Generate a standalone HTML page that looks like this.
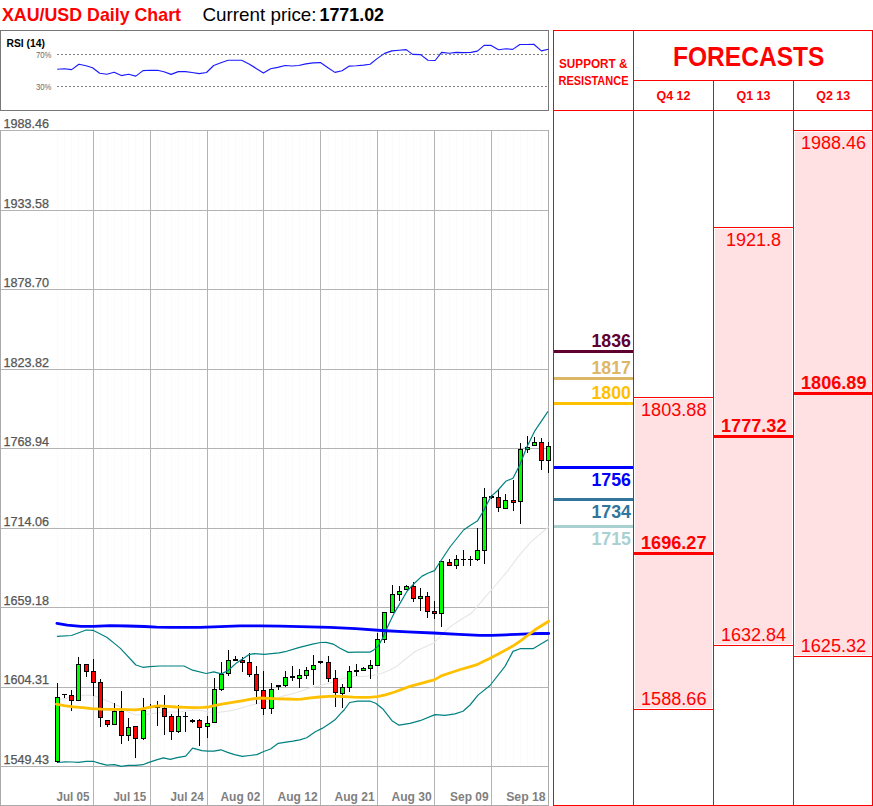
<!DOCTYPE html>
<html><head><meta charset="utf-8"><title>XAU/USD Daily Chart</title>
<style>
html,body{margin:0;padding:0;background:#fff;}
svg{display:block;}
text{font-family:"Liberation Sans",Arial,sans-serif;}
</style></head>
<body>
<svg width="873" height="806" viewBox="0 0 873 806">
<rect x="0" y="0" width="873" height="806" fill="#fff"/>
<text x="2" y="21" font-size="18.5" font-weight="bold" fill="#ff0000" textLength="179" lengthAdjust="spacingAndGlyphs">XAU/USD Daily Chart</text>
<text x="202.5" y="21" font-size="18.5" fill="#000" textLength="114" lengthAdjust="spacingAndGlyphs">Current price:</text>
<text x="319.5" y="21" font-size="18.5" font-weight="bold" fill="#000" textLength="64.5" lengthAdjust="spacingAndGlyphs">1771.02</text>
<rect x="0.5" y="30.5" width="548" height="80" fill="none" stroke="#777" stroke-width="1"/>
<text x="6.5" y="46.8" font-size="11" font-weight="bold" fill="#000" textLength="38.5" lengthAdjust="spacingAndGlyphs">RSI (14)</text>
<text x="36" y="58.2" font-size="8.5" fill="#6a6a6a" textLength="15.5" lengthAdjust="spacingAndGlyphs">70%</text>
<text x="36" y="90" font-size="8.5" fill="#6a6a6a" textLength="15.5" lengthAdjust="spacingAndGlyphs">30%</text>
<line x1="57" y1="54.5" x2="548" y2="54.5" stroke="#808080" stroke-width="1" stroke-dasharray="2,2"/>
<line x1="57" y1="86.5" x2="548" y2="86.5" stroke="#808080" stroke-width="1" stroke-dasharray="2,2"/>
<polyline points="57.2,69.2 64.4,68.7 71.6,69.6 78.9,64.3 86.1,65.8 92.5,67.7 99.7,73.2 106.9,74.3 114.1,72.2 121.4,75.6 128.6,74.3 135.8,76.1 143,70.6 150.2,70.3 157.4,70.3 163.9,71.7 171.1,74.4 178.3,71.6 185.5,71.6 192,72.5 199.2,73.6 206.5,72.5 213.7,65.5 220.9,62.7 228.1,60.3 235.3,60.2 241.7,60.3 249,63.9 256.2,68.4 263.4,73 270.6,68.7 277.8,67.4 285,65.5 292.3,66 298.7,65.5 305.9,63.9 313.1,62.9 320.4,62.6 327.6,67.4 334.9,72.4 342.1,70.8 349.3,66.1 356.5,65.8 363.7,65.1 370.1,64.2 377.4,58.4 384.6,53.4 391.8,50.9 399,50.2 406.2,49.6 412.6,54.4 420.6,54.6 427.9,60.2 435.1,60.5 441.6,52.4 449.4,53.3 456.1,52.4 463.5,52.6 471,52.4 477.4,51.1 484.1,45.4 491.1,45.4 498.5,49.7 506,48.8 512.7,49.4 519.8,44.5 526.8,44.5 533.8,44.2 541.4,50.9 548.4,49.3" fill="none" stroke="#1a1aff" stroke-width="1.15" stroke-linejoin="round"/>
<line x1="57.5" y1="131" x2="57.5" y2="766" stroke="#fbfbfb" stroke-width="1"/>
<line x1="64.5" y1="131" x2="64.5" y2="766" stroke="#fbfbfb" stroke-width="1"/>
<line x1="71.5" y1="131" x2="71.5" y2="766" stroke="#fbfbfb" stroke-width="1"/>
<line x1="78.5" y1="131" x2="78.5" y2="766" stroke="#fbfbfb" stroke-width="1"/>
<line x1="86.5" y1="131" x2="86.5" y2="766" stroke="#fbfbfb" stroke-width="1"/>
<line x1="93.5" y1="131" x2="93.5" y2="766" stroke="#fbfbfb" stroke-width="1"/>
<line x1="100.5" y1="131" x2="100.5" y2="766" stroke="#fbfbfb" stroke-width="1"/>
<line x1="107.5" y1="131" x2="107.5" y2="766" stroke="#fbfbfb" stroke-width="1"/>
<line x1="114.5" y1="131" x2="114.5" y2="766" stroke="#fbfbfb" stroke-width="1"/>
<line x1="121.5" y1="131" x2="121.5" y2="766" stroke="#fbfbfb" stroke-width="1"/>
<line x1="128.5" y1="131" x2="128.5" y2="766" stroke="#fbfbfb" stroke-width="1"/>
<line x1="135.5" y1="131" x2="135.5" y2="766" stroke="#fbfbfb" stroke-width="1"/>
<line x1="143.5" y1="131" x2="143.5" y2="766" stroke="#fbfbfb" stroke-width="1"/>
<line x1="150.5" y1="131" x2="150.5" y2="766" stroke="#fbfbfb" stroke-width="1"/>
<line x1="157.5" y1="131" x2="157.5" y2="766" stroke="#fbfbfb" stroke-width="1"/>
<line x1="164.5" y1="131" x2="164.5" y2="766" stroke="#fbfbfb" stroke-width="1"/>
<line x1="171.5" y1="131" x2="171.5" y2="766" stroke="#fbfbfb" stroke-width="1"/>
<line x1="178.5" y1="131" x2="178.5" y2="766" stroke="#fbfbfb" stroke-width="1"/>
<line x1="185.5" y1="131" x2="185.5" y2="766" stroke="#fbfbfb" stroke-width="1"/>
<line x1="192.5" y1="131" x2="192.5" y2="766" stroke="#fbfbfb" stroke-width="1"/>
<line x1="199.5" y1="131" x2="199.5" y2="766" stroke="#fbfbfb" stroke-width="1"/>
<line x1="207.5" y1="131" x2="207.5" y2="766" stroke="#fbfbfb" stroke-width="1"/>
<line x1="214.5" y1="131" x2="214.5" y2="766" stroke="#fbfbfb" stroke-width="1"/>
<line x1="221.5" y1="131" x2="221.5" y2="766" stroke="#fbfbfb" stroke-width="1"/>
<line x1="228.5" y1="131" x2="228.5" y2="766" stroke="#fbfbfb" stroke-width="1"/>
<line x1="235.5" y1="131" x2="235.5" y2="766" stroke="#fbfbfb" stroke-width="1"/>
<line x1="242.5" y1="131" x2="242.5" y2="766" stroke="#fbfbfb" stroke-width="1"/>
<line x1="249.5" y1="131" x2="249.5" y2="766" stroke="#fbfbfb" stroke-width="1"/>
<line x1="256.5" y1="131" x2="256.5" y2="766" stroke="#fbfbfb" stroke-width="1"/>
<line x1="263.5" y1="131" x2="263.5" y2="766" stroke="#fbfbfb" stroke-width="1"/>
<line x1="271.5" y1="131" x2="271.5" y2="766" stroke="#fbfbfb" stroke-width="1"/>
<line x1="278.5" y1="131" x2="278.5" y2="766" stroke="#fbfbfb" stroke-width="1"/>
<line x1="285.5" y1="131" x2="285.5" y2="766" stroke="#fbfbfb" stroke-width="1"/>
<line x1="292.5" y1="131" x2="292.5" y2="766" stroke="#fbfbfb" stroke-width="1"/>
<line x1="299.5" y1="131" x2="299.5" y2="766" stroke="#fbfbfb" stroke-width="1"/>
<line x1="306.5" y1="131" x2="306.5" y2="766" stroke="#fbfbfb" stroke-width="1"/>
<line x1="313.5" y1="131" x2="313.5" y2="766" stroke="#fbfbfb" stroke-width="1"/>
<line x1="320.5" y1="131" x2="320.5" y2="766" stroke="#fbfbfb" stroke-width="1"/>
<line x1="328.5" y1="131" x2="328.5" y2="766" stroke="#fbfbfb" stroke-width="1"/>
<line x1="335.5" y1="131" x2="335.5" y2="766" stroke="#fbfbfb" stroke-width="1"/>
<line x1="342.5" y1="131" x2="342.5" y2="766" stroke="#fbfbfb" stroke-width="1"/>
<line x1="349.5" y1="131" x2="349.5" y2="766" stroke="#fbfbfb" stroke-width="1"/>
<line x1="356.5" y1="131" x2="356.5" y2="766" stroke="#fbfbfb" stroke-width="1"/>
<line x1="363.5" y1="131" x2="363.5" y2="766" stroke="#fbfbfb" stroke-width="1"/>
<line x1="370.5" y1="131" x2="370.5" y2="766" stroke="#fbfbfb" stroke-width="1"/>
<line x1="377.5" y1="131" x2="377.5" y2="766" stroke="#fbfbfb" stroke-width="1"/>
<line x1="384.5" y1="131" x2="384.5" y2="766" stroke="#fbfbfb" stroke-width="1"/>
<line x1="392.5" y1="131" x2="392.5" y2="766" stroke="#fbfbfb" stroke-width="1"/>
<line x1="399.5" y1="131" x2="399.5" y2="766" stroke="#fbfbfb" stroke-width="1"/>
<line x1="406.5" y1="131" x2="406.5" y2="766" stroke="#fbfbfb" stroke-width="1"/>
<line x1="413.5" y1="131" x2="413.5" y2="766" stroke="#fbfbfb" stroke-width="1"/>
<line x1="420.5" y1="131" x2="420.5" y2="766" stroke="#fbfbfb" stroke-width="1"/>
<line x1="427.5" y1="131" x2="427.5" y2="766" stroke="#fbfbfb" stroke-width="1"/>
<line x1="434.5" y1="131" x2="434.5" y2="766" stroke="#fbfbfb" stroke-width="1"/>
<line x1="441.5" y1="131" x2="441.5" y2="766" stroke="#fbfbfb" stroke-width="1"/>
<line x1="449.5" y1="131" x2="449.5" y2="766" stroke="#fbfbfb" stroke-width="1"/>
<line x1="456.5" y1="131" x2="456.5" y2="766" stroke="#fbfbfb" stroke-width="1"/>
<line x1="463.5" y1="131" x2="463.5" y2="766" stroke="#fbfbfb" stroke-width="1"/>
<line x1="470.5" y1="131" x2="470.5" y2="766" stroke="#fbfbfb" stroke-width="1"/>
<line x1="477.5" y1="131" x2="477.5" y2="766" stroke="#fbfbfb" stroke-width="1"/>
<line x1="484.5" y1="131" x2="484.5" y2="766" stroke="#fbfbfb" stroke-width="1"/>
<line x1="491.5" y1="131" x2="491.5" y2="766" stroke="#fbfbfb" stroke-width="1"/>
<line x1="498.5" y1="131" x2="498.5" y2="766" stroke="#fbfbfb" stroke-width="1"/>
<line x1="505.5" y1="131" x2="505.5" y2="766" stroke="#fbfbfb" stroke-width="1"/>
<line x1="513.5" y1="131" x2="513.5" y2="766" stroke="#fbfbfb" stroke-width="1"/>
<line x1="520.5" y1="131" x2="520.5" y2="766" stroke="#fbfbfb" stroke-width="1"/>
<line x1="527.5" y1="131" x2="527.5" y2="766" stroke="#fbfbfb" stroke-width="1"/>
<line x1="534.5" y1="131" x2="534.5" y2="766" stroke="#fbfbfb" stroke-width="1"/>
<line x1="541.5" y1="131" x2="541.5" y2="766" stroke="#fbfbfb" stroke-width="1"/>
<line x1="548.5" y1="131" x2="548.5" y2="766" stroke="#fbfbfb" stroke-width="1"/>
<line x1="0" y1="130.5" x2="549" y2="130.5" stroke="#b3b3b3" stroke-width="1"/>
<line x1="0" y1="210.5" x2="549" y2="210.5" stroke="#b3b3b3" stroke-width="1"/>
<line x1="0" y1="289.5" x2="549" y2="289.5" stroke="#b3b3b3" stroke-width="1"/>
<line x1="0" y1="369.5" x2="549" y2="369.5" stroke="#b3b3b3" stroke-width="1"/>
<line x1="0" y1="448.5" x2="549" y2="448.5" stroke="#b3b3b3" stroke-width="1"/>
<line x1="0" y1="528.5" x2="549" y2="528.5" stroke="#b3b3b3" stroke-width="1"/>
<line x1="0" y1="607.5" x2="549" y2="607.5" stroke="#b3b3b3" stroke-width="1"/>
<line x1="0" y1="687.5" x2="549" y2="687.5" stroke="#b3b3b3" stroke-width="1"/>
<line x1="0" y1="766.5" x2="549" y2="766.5" stroke="#b3b3b3" stroke-width="1"/>
<line x1="93.5" y1="130" x2="93.5" y2="805" stroke="#b3b3b3" stroke-width="1"/>
<line x1="150.5" y1="130" x2="150.5" y2="805" stroke="#b3b3b3" stroke-width="1"/>
<line x1="207.5" y1="130" x2="207.5" y2="805" stroke="#b3b3b3" stroke-width="1"/>
<line x1="263.5" y1="130" x2="263.5" y2="805" stroke="#b3b3b3" stroke-width="1"/>
<line x1="320.5" y1="130" x2="320.5" y2="805" stroke="#b3b3b3" stroke-width="1"/>
<line x1="377.5" y1="130" x2="377.5" y2="805" stroke="#b3b3b3" stroke-width="1"/>
<line x1="434.5" y1="130" x2="434.5" y2="805" stroke="#b3b3b3" stroke-width="1"/>
<line x1="491.5" y1="130" x2="491.5" y2="805" stroke="#b3b3b3" stroke-width="1"/>
<line x1="548.5" y1="130" x2="548.5" y2="805" stroke="#b3b3b3" stroke-width="1"/>
<line x1="0.5" y1="130" x2="0.5" y2="806" stroke="#aaa" stroke-width="1"/>
<line x1="0" y1="805.5" x2="549" y2="805.5" stroke="#aaa" stroke-width="1"/>
<line x1="548.5" y1="130" x2="548.5" y2="806" stroke="#aaa" stroke-width="1"/>
<text x="3.5" y="128.3" font-size="11.9" fill="#555" stroke="#555" stroke-width="0.25" textLength="45.5" lengthAdjust="spacingAndGlyphs">1988.46</text>
<text x="3.5" y="207.75" font-size="11.9" fill="#555" stroke="#555" stroke-width="0.25" textLength="45.5" lengthAdjust="spacingAndGlyphs">1933.58</text>
<text x="3.5" y="287.2" font-size="11.9" fill="#555" stroke="#555" stroke-width="0.25" textLength="45.5" lengthAdjust="spacingAndGlyphs">1878.70</text>
<text x="3.5" y="366.65" font-size="11.9" fill="#555" stroke="#555" stroke-width="0.25" textLength="45.5" lengthAdjust="spacingAndGlyphs">1823.82</text>
<text x="3.5" y="446.1" font-size="11.9" fill="#555" stroke="#555" stroke-width="0.25" textLength="45.5" lengthAdjust="spacingAndGlyphs">1768.94</text>
<text x="3.5" y="525.55" font-size="11.9" fill="#555" stroke="#555" stroke-width="0.25" textLength="45.5" lengthAdjust="spacingAndGlyphs">1714.06</text>
<text x="3.5" y="605" font-size="11.9" fill="#555" stroke="#555" stroke-width="0.25" textLength="45.5" lengthAdjust="spacingAndGlyphs">1659.18</text>
<text x="3.5" y="684.45" font-size="11.9" fill="#555" stroke="#555" stroke-width="0.25" textLength="45.5" lengthAdjust="spacingAndGlyphs">1604.31</text>
<text x="3.5" y="763.9" font-size="11.9" fill="#555" stroke="#555" stroke-width="0.25" textLength="45.5" lengthAdjust="spacingAndGlyphs">1549.43</text>
<text x="56.5" y="800.7" font-size="12.5" font-weight="bold" fill="#7f7f7f" textLength="33" lengthAdjust="spacingAndGlyphs">Jul 05</text>
<text x="113.4" y="800.7" font-size="12.5" font-weight="bold" fill="#7f7f7f" textLength="32.8" lengthAdjust="spacingAndGlyphs">Jul 15</text>
<text x="170.5" y="800.7" font-size="12.5" font-weight="bold" fill="#7f7f7f" textLength="33.2" lengthAdjust="spacingAndGlyphs">Jul 24</text>
<text x="220.5" y="800.7" font-size="12.5" font-weight="bold" fill="#7f7f7f" textLength="39.8" lengthAdjust="spacingAndGlyphs">Aug 02</text>
<text x="277.5" y="800.7" font-size="12.5" font-weight="bold" fill="#7f7f7f" textLength="40.1" lengthAdjust="spacingAndGlyphs">Aug 12</text>
<text x="334.6" y="800.7" font-size="12.5" font-weight="bold" fill="#7f7f7f" textLength="40.1" lengthAdjust="spacingAndGlyphs">Aug 21</text>
<text x="391.4" y="800.7" font-size="12.5" font-weight="bold" fill="#7f7f7f" textLength="40.4" lengthAdjust="spacingAndGlyphs">Aug 30</text>
<text x="450.1" y="800.7" font-size="12.5" font-weight="bold" fill="#7f7f7f" textLength="38.5" lengthAdjust="spacingAndGlyphs">Sep 09</text>
<text x="506.2" y="800.7" font-size="12.5" font-weight="bold" fill="#7f7f7f" textLength="39.5" lengthAdjust="spacingAndGlyphs">Sep 18</text>
<polyline points="57.6,699.6 61.4,699.2 73.3,696.9 82.5,695.5 87.1,695 93.5,695.5 100.8,698.2 110,701.9 119.2,706.5 128.3,712 135,714.7 144.2,714.9 153.3,713.4 162.5,712.5 171.7,712 180.8,711.8 190,710.2 199.2,710 208.3,712 218.7,712.3 227.9,711.1 237.1,709.3 246.2,706.5 255.4,704.2 264.6,702 273.7,699.5 282.9,696.1 292.1,693.8 301.2,691 310.4,687.8 319.6,685.8 328.7,683.2 335,681.5 344.2,678.3 353.3,676.5 362.5,676.5 371.7,675.8 380.8,673.7 390,670 397.3,665.9 405,659.5 415.9,651 425,647 434.3,642.7 449.6,627.1 461.5,619.2 471.4,613.3 483.3,599.4 495.2,585.5 507.1,571.6 519,555.7 531,541.8 548.6,527" fill="none" stroke="#e6e6e6" stroke-width="1.1" stroke-linejoin="round"/>
<g shape-rendering="crispEdges">
<rect x="57" y="683" width="1" height="80" fill="#000"/>
<rect x="55" y="697" width="5" height="65" fill="#000"/>
<rect x="56" y="698" width="3" height="63" fill="#00ff00"/>
<rect x="64" y="694" width="1" height="4" fill="#000"/>
<rect x="62" y="694" width="5" height="1" fill="#000"/>
<rect x="71" y="690" width="1" height="21" fill="#000"/>
<rect x="69" y="695" width="5" height="6" fill="#000"/>
<rect x="70" y="696" width="3" height="4" fill="#ff0000"/>
<rect x="78" y="657" width="1" height="43" fill="#000"/>
<rect x="76" y="664" width="5" height="37" fill="#000"/>
<rect x="77" y="665" width="3" height="35" fill="#00ff00"/>
<rect x="86" y="664" width="1" height="13" fill="#000"/>
<rect x="84" y="664" width="5" height="8" fill="#000"/>
<rect x="85" y="665" width="3" height="6" fill="#ff0000"/>
<rect x="93" y="659" width="1" height="37" fill="#000"/>
<rect x="91" y="671" width="5" height="12" fill="#000"/>
<rect x="92" y="672" width="3" height="10" fill="#ff0000"/>
<rect x="100" y="679" width="1" height="48" fill="#000"/>
<rect x="98" y="682" width="5" height="36" fill="#000"/>
<rect x="99" y="683" width="3" height="34" fill="#ff0000"/>
<rect x="107" y="720" width="1" height="7" fill="#000"/>
<rect x="105" y="720" width="5" height="5" fill="#000"/>
<rect x="106" y="721" width="3" height="3" fill="#ff0000"/>
<rect x="114" y="703" width="1" height="21" fill="#000"/>
<rect x="112" y="711" width="5" height="14" fill="#000"/>
<rect x="113" y="712" width="3" height="12" fill="#00ff00"/>
<rect x="121" y="691" width="1" height="53" fill="#000"/>
<rect x="119" y="711" width="5" height="25" fill="#000"/>
<rect x="120" y="712" width="3" height="23" fill="#ff0000"/>
<rect x="128" y="718" width="1" height="23" fill="#000"/>
<rect x="126" y="727" width="5" height="9" fill="#000"/>
<rect x="127" y="728" width="3" height="7" fill="#00ff00"/>
<rect x="135" y="726" width="1" height="32" fill="#000"/>
<rect x="133" y="726" width="5" height="13" fill="#000"/>
<rect x="134" y="727" width="3" height="11" fill="#ff0000"/>
<rect x="143" y="698" width="1" height="42" fill="#000"/>
<rect x="141" y="710" width="5" height="29" fill="#000"/>
<rect x="142" y="711" width="3" height="27" fill="#00ff00"/>
<rect x="150" y="704" width="1" height="4" fill="#000"/>
<rect x="148" y="706" width="5" height="1" fill="#000"/>
<rect x="157" y="701" width="1" height="25" fill="#000"/>
<rect x="155" y="707" width="5" height="1" fill="#000"/>
<rect x="164" y="695" width="1" height="40" fill="#000"/>
<rect x="162" y="708" width="5" height="9" fill="#000"/>
<rect x="163" y="709" width="3" height="7" fill="#ff0000"/>
<rect x="171" y="714" width="1" height="26" fill="#000"/>
<rect x="169" y="716" width="5" height="16" fill="#000"/>
<rect x="170" y="717" width="3" height="14" fill="#ff0000"/>
<rect x="178" y="705" width="1" height="28" fill="#000"/>
<rect x="176" y="716" width="5" height="16" fill="#000"/>
<rect x="177" y="717" width="3" height="14" fill="#00ff00"/>
<rect x="185" y="712" width="1" height="20" fill="#000"/>
<rect x="183" y="716" width="5" height="1" fill="#000"/>
<rect x="192" y="719" width="1" height="4" fill="#000"/>
<rect x="190" y="720" width="5" height="2" fill="#000"/>
<rect x="199" y="719" width="1" height="27" fill="#000"/>
<rect x="197" y="720" width="5" height="8" fill="#000"/>
<rect x="198" y="721" width="3" height="6" fill="#ff0000"/>
<rect x="207" y="716" width="1" height="22" fill="#000"/>
<rect x="205" y="723" width="5" height="4" fill="#000"/>
<rect x="206" y="724" width="3" height="2" fill="#00ff00"/>
<rect x="214" y="678" width="1" height="44" fill="#000"/>
<rect x="212" y="689" width="5" height="34" fill="#000"/>
<rect x="213" y="690" width="3" height="32" fill="#00ff00"/>
<rect x="221" y="662" width="1" height="29" fill="#000"/>
<rect x="219" y="674" width="5" height="16" fill="#000"/>
<rect x="220" y="675" width="3" height="14" fill="#00ff00"/>
<rect x="228" y="650" width="1" height="26" fill="#000"/>
<rect x="226" y="660" width="5" height="14" fill="#000"/>
<rect x="227" y="661" width="3" height="12" fill="#00ff00"/>
<rect x="235" y="656" width="1" height="4" fill="#000"/>
<rect x="233" y="659" width="5" height="2" fill="#000"/>
<rect x="242" y="657" width="1" height="15" fill="#000"/>
<rect x="240" y="660" width="5" height="3" fill="#000"/>
<rect x="241" y="661" width="3" height="1" fill="#ff0000"/>
<rect x="249" y="653" width="1" height="24" fill="#000"/>
<rect x="247" y="662" width="5" height="13" fill="#000"/>
<rect x="248" y="663" width="3" height="11" fill="#ff0000"/>
<rect x="256" y="666" width="1" height="38" fill="#000"/>
<rect x="254" y="674" width="5" height="17" fill="#000"/>
<rect x="255" y="675" width="3" height="15" fill="#ff0000"/>
<rect x="263" y="671" width="1" height="44" fill="#000"/>
<rect x="261" y="690" width="5" height="19" fill="#000"/>
<rect x="262" y="691" width="3" height="17" fill="#ff0000"/>
<rect x="271" y="683" width="1" height="31" fill="#000"/>
<rect x="269" y="689" width="5" height="20" fill="#000"/>
<rect x="270" y="690" width="3" height="18" fill="#00ff00"/>
<rect x="278" y="685" width="1" height="5" fill="#000"/>
<rect x="276" y="685" width="5" height="2" fill="#000"/>
<rect x="285" y="671" width="1" height="16" fill="#000"/>
<rect x="283" y="677" width="5" height="9" fill="#000"/>
<rect x="284" y="678" width="3" height="7" fill="#00ff00"/>
<rect x="292" y="666" width="1" height="15" fill="#000"/>
<rect x="290" y="676" width="5" height="2" fill="#000"/>
<rect x="299" y="669" width="1" height="19" fill="#000"/>
<rect x="297" y="675" width="5" height="4" fill="#000"/>
<rect x="298" y="676" width="3" height="2" fill="#00ff00"/>
<rect x="306" y="667" width="1" height="12" fill="#000"/>
<rect x="304" y="670" width="5" height="6" fill="#000"/>
<rect x="305" y="671" width="3" height="4" fill="#00ff00"/>
<rect x="313" y="655" width="1" height="30" fill="#000"/>
<rect x="311" y="665" width="5" height="5" fill="#000"/>
<rect x="312" y="666" width="3" height="3" fill="#00ff00"/>
<rect x="320" y="661" width="1" height="3" fill="#000"/>
<rect x="318" y="661" width="5" height="2" fill="#000"/>
<rect x="328" y="656" width="1" height="26" fill="#000"/>
<rect x="326" y="662" width="5" height="17" fill="#000"/>
<rect x="327" y="663" width="3" height="15" fill="#ff0000"/>
<rect x="335" y="670" width="1" height="37" fill="#000"/>
<rect x="333" y="678" width="5" height="15" fill="#000"/>
<rect x="334" y="679" width="3" height="13" fill="#ff0000"/>
<rect x="342" y="684" width="1" height="24" fill="#000"/>
<rect x="340" y="687" width="5" height="7" fill="#000"/>
<rect x="341" y="688" width="3" height="5" fill="#00ff00"/>
<rect x="349" y="666" width="1" height="26" fill="#000"/>
<rect x="347" y="671" width="5" height="17" fill="#000"/>
<rect x="348" y="672" width="3" height="15" fill="#00ff00"/>
<rect x="356" y="664" width="1" height="12" fill="#000"/>
<rect x="354" y="670" width="5" height="2" fill="#000"/>
<rect x="363" y="667" width="1" height="4" fill="#000"/>
<rect x="361" y="668" width="5" height="3" fill="#000"/>
<rect x="362" y="669" width="3" height="1" fill="#00ff00"/>
<rect x="370" y="660" width="1" height="19" fill="#000"/>
<rect x="368" y="665" width="5" height="4" fill="#000"/>
<rect x="369" y="666" width="3" height="2" fill="#00ff00"/>
<rect x="377" y="633" width="1" height="33" fill="#000"/>
<rect x="375" y="639" width="5" height="27" fill="#000"/>
<rect x="376" y="640" width="3" height="25" fill="#00ff00"/>
<rect x="384" y="612" width="1" height="31" fill="#000"/>
<rect x="382" y="612" width="5" height="28" fill="#000"/>
<rect x="383" y="613" width="3" height="26" fill="#00ff00"/>
<rect x="392" y="585" width="1" height="27" fill="#000"/>
<rect x="390" y="594" width="5" height="19" fill="#000"/>
<rect x="391" y="595" width="3" height="17" fill="#00ff00"/>
<rect x="399" y="586" width="1" height="15" fill="#000"/>
<rect x="397" y="591" width="5" height="4" fill="#000"/>
<rect x="398" y="592" width="3" height="2" fill="#00ff00"/>
<rect x="406" y="585" width="1" height="5" fill="#000"/>
<rect x="404" y="586" width="5" height="4" fill="#000"/>
<rect x="405" y="587" width="3" height="2" fill="#00ff00"/>
<rect x="413" y="582" width="1" height="20" fill="#000"/>
<rect x="411" y="586" width="5" height="13" fill="#000"/>
<rect x="412" y="587" width="3" height="11" fill="#ff0000"/>
<rect x="420" y="588" width="1" height="23" fill="#000"/>
<rect x="418" y="596" width="5" height="3" fill="#000"/>
<rect x="419" y="597" width="3" height="1" fill="#00ff00"/>
<rect x="427" y="592" width="1" height="26" fill="#000"/>
<rect x="425" y="596" width="5" height="16" fill="#000"/>
<rect x="426" y="597" width="3" height="14" fill="#ff0000"/>
<rect x="434" y="601" width="1" height="18" fill="#000"/>
<rect x="432" y="611" width="5" height="3" fill="#000"/>
<rect x="433" y="612" width="3" height="1" fill="#ff0000"/>
<rect x="441" y="561" width="1" height="66" fill="#000"/>
<rect x="439" y="561" width="5" height="53" fill="#000"/>
<rect x="440" y="562" width="3" height="51" fill="#00ff00"/>
<rect x="449" y="559" width="1" height="7" fill="#000"/>
<rect x="447" y="562" width="5" height="4" fill="#000"/>
<rect x="448" y="563" width="3" height="2" fill="#ff0000"/>
<rect x="456" y="555" width="1" height="14" fill="#000"/>
<rect x="454" y="559" width="5" height="7" fill="#000"/>
<rect x="455" y="560" width="3" height="5" fill="#00ff00"/>
<rect x="463" y="550" width="1" height="16" fill="#000"/>
<rect x="461" y="559" width="5" height="1" fill="#000"/>
<rect x="470" y="556" width="1" height="10" fill="#000"/>
<rect x="468" y="559" width="5" height="1" fill="#000"/>
<rect x="477" y="528" width="1" height="33" fill="#000"/>
<rect x="475" y="550" width="5" height="10" fill="#000"/>
<rect x="476" y="551" width="3" height="8" fill="#00ff00"/>
<rect x="484" y="488" width="1" height="76" fill="#000"/>
<rect x="482" y="497" width="5" height="54" fill="#000"/>
<rect x="483" y="498" width="3" height="52" fill="#00ff00"/>
<rect x="491" y="495" width="1" height="4" fill="#000"/>
<rect x="489" y="496" width="5" height="2" fill="#000"/>
<rect x="498" y="490" width="1" height="22" fill="#000"/>
<rect x="496" y="497" width="5" height="11" fill="#000"/>
<rect x="497" y="498" width="3" height="9" fill="#ff0000"/>
<rect x="505" y="494" width="1" height="15" fill="#000"/>
<rect x="503" y="500" width="5" height="9" fill="#000"/>
<rect x="504" y="501" width="3" height="7" fill="#00ff00"/>
<rect x="513" y="480" width="1" height="31" fill="#000"/>
<rect x="511" y="500" width="5" height="3" fill="#000"/>
<rect x="512" y="501" width="3" height="1" fill="#ff0000"/>
<rect x="520" y="443" width="1" height="81" fill="#000"/>
<rect x="518" y="449" width="5" height="53" fill="#000"/>
<rect x="519" y="450" width="3" height="51" fill="#00ff00"/>
<rect x="527" y="436" width="1" height="17" fill="#000"/>
<rect x="525" y="447" width="5" height="3" fill="#000"/>
<rect x="526" y="448" width="3" height="1" fill="#00ff00"/>
<rect x="534" y="437" width="1" height="9" fill="#000"/>
<rect x="532" y="442" width="5" height="4" fill="#000"/>
<rect x="533" y="443" width="3" height="2" fill="#00ff00"/>
<rect x="541" y="438" width="1" height="32" fill="#000"/>
<rect x="539" y="442" width="5" height="19" fill="#000"/>
<rect x="540" y="443" width="3" height="17" fill="#ff0000"/>
<rect x="548" y="442" width="1" height="31" fill="#000"/>
<rect x="546" y="446" width="5" height="15" fill="#000"/>
<rect x="547" y="447" width="3" height="13" fill="#00ff00"/>
</g>
<polyline points="56.9,636.3 71.5,635.5 86.1,630 93,630.3 106.7,637.2 115.3,644.1 120.4,648.4 135.9,665 142.8,667.3 149.7,666.7 160,666 184,666 192.6,670.2 206.2,673.5 213.8,671.9 221.4,673.9 228.2,670.5 236.5,662.9 248.8,654.7 254.3,653.7 264,654.3 279.1,652.9 285,651.7 298.7,647.6 312.5,644.1 320.7,642.5 326.2,642.3 333.1,644.1 340,648.2 348.2,652.4 356.5,652.1 370.2,652.1 373.7,649.9 378,646.4 382.4,638.6 385.8,630.8 390.2,621.3 394.5,612.6 399.7,603.9 407.2,591 414.7,583 422.1,576.1 428.3,573 434.5,570.6 438.9,563.7 441.4,560 450,547 463.6,530 470.5,525.2 477.3,521.1 482.7,512.3 490.9,496.6 497.7,490.5 505.9,481.2 513,478.2 520,464.5 527,446.8 535,430.6 548,411.3" fill="none" stroke="#008080" stroke-width="1.2" stroke-linejoin="round"/>
<polyline points="57.7,762.5 65.5,761.8 72.3,762 78.4,762.3 86.1,761.3 93,761.3 99.8,763.4 106.7,765.1 114.4,764.7 121.3,766.4 128.2,765.4 135.9,765.4 142.8,764.7 149.7,762.1 156.5,759.9 163.4,757.9 170.3,759.4 177.1,757.7 185.7,756.1 192.6,748.2 201.9,750.7 207.9,751.2 213.9,751.2 220.8,749.8 227.6,752.4 234.5,754.6 242.3,756.4 250,755.5 256.9,754.6 263.7,751.5 270.6,749 278.3,743.3 286.1,742.1 292.9,741.2 299.8,739.9 306.7,737.8 315.3,731.8 322.1,728.4 329,724.1 335,719.8 340,714.1 344.1,710 349.6,702.5 357.9,701.2 370.2,701.2 375.7,703.2 382.6,708.7 392,720.7 399,725.2 410,723.4 420,720.7 435,714.6 445,715.3 455,713.9 463,711.2 470,705 478,695.1 490,685.5 505,666.4 513,651.4 520,648.7 533,648.7 548,639.7" fill="none" stroke="#008080" stroke-width="1.2" stroke-linejoin="round"/>
<polyline points="56.9,623.4 67.2,625.2 80.9,626.4 93,626.4 110.1,625.7 127.3,626 144.5,626.5 156.5,627.2 170.3,627.4 200,627.4 220,626.6 240,625.9 260,625.9 280,626.2 300,626.7 330,627.4 355.8,628.7 381.5,630.5 407.3,631.8 433.1,633 458.9,634.4 480,635.3 491.9,635.3 505.7,634.8 516.7,634.4 527.7,633.9 539.6,633.5 548.7,633.5" fill="none" stroke="#0000ff" stroke-width="2.8" stroke-linejoin="round" stroke-linecap="round"/>
<polyline points="56.4,704.2 64.2,705.6 73.3,706.8 82.5,707.6 91.7,708.6 100.8,709.2 110,709.4 119.2,709.4 128.3,709.7 135,709.9 141.4,709.2 148.7,707.4 157.9,705.8 167.1,706.3 176.2,707 185.4,707.4 194.6,707.6 203.7,707.4 208.3,707 214.2,705.6 223.3,703.8 232.5,702.4 241.7,700.8 250.8,699.2 260,698 269.2,698.3 278.3,698.9 287.5,699 296.7,699.3 301.2,699.1 310.4,697.9 319.6,697 328.7,696.3 335,696.2 344.2,696.6 353.3,697.1 362.5,697.3 371.7,697.1 377.2,696.6 385.4,694.8 394.6,692 403.7,688.6 410,686.3 419.2,683.8 428.3,681.4 434.3,679.9 441.2,675.9 451.2,672.5 460.4,669.5 469.6,666.8 476.9,664.7 483.3,661.6 489.2,658.7 498.3,653.9 507.5,649 513.9,645.4 521.2,640.3 527.7,635.3 535,629.8 542.3,625.2 548.7,621.3" fill="none" stroke="#ffc000" stroke-width="2.8" stroke-linejoin="round" stroke-linecap="round"/>
<rect x="635" y="399" width="77" height="309" fill="#ffe1e3"/>
<rect x="715" y="229" width="77" height="415" fill="#ffe1e3"/>
<rect x="795" y="132" width="76" height="523" fill="#ffe1e3"/>
<line x1="633" y1="397.5" x2="714" y2="397.5" stroke="#ff0000" stroke-width="1"/>
<line x1="633" y1="709.5" x2="714" y2="709.5" stroke="#ff0000" stroke-width="1"/>
<line x1="713" y1="227.5" x2="794" y2="227.5" stroke="#ff0000" stroke-width="1"/>
<line x1="713" y1="645.5" x2="794" y2="645.5" stroke="#ff0000" stroke-width="1"/>
<line x1="793" y1="130.5" x2="873" y2="130.5" stroke="#ff0000" stroke-width="1"/>
<line x1="793" y1="656.5" x2="873" y2="656.5" stroke="#ff0000" stroke-width="1"/>
<line x1="633" y1="553.5" x2="714" y2="553.5" stroke="#ff0000" stroke-width="3"/>
<line x1="713" y1="436.5" x2="794" y2="436.5" stroke="#ff0000" stroke-width="3"/>
<line x1="793" y1="393.5" x2="873" y2="393.5" stroke="#ff0000" stroke-width="3"/>
<line x1="554" y1="351.5" x2="634" y2="351.5" stroke="#5f0031" stroke-width="3"/>
<text x="591.5" y="346.7" font-size="17.5" font-weight="bold" fill="#5f0031" textLength="39.5" lengthAdjust="spacingAndGlyphs">1836</text>
<line x1="554" y1="378.5" x2="634" y2="378.5" stroke="#dcb767" stroke-width="3"/>
<text x="591.5" y="373.7" font-size="17.5" font-weight="bold" fill="#dcb767" textLength="39.5" lengthAdjust="spacingAndGlyphs">1817</text>
<line x1="554" y1="403.5" x2="634" y2="403.5" stroke="#ffc000" stroke-width="3"/>
<text x="591.5" y="398.8" font-size="17.5" font-weight="bold" fill="#ffc000" textLength="39.5" lengthAdjust="spacingAndGlyphs">1800</text>
<line x1="554" y1="467.5" x2="634" y2="467.5" stroke="#0000ff" stroke-width="3"/>
<text x="591.5" y="486" font-size="17.5" font-weight="bold" fill="#0000ff" textLength="39.5" lengthAdjust="spacingAndGlyphs">1756</text>
<line x1="554" y1="499.5" x2="634" y2="499.5" stroke="#31759c" stroke-width="3"/>
<text x="591.5" y="517.9" font-size="17.5" font-weight="bold" fill="#31759c" textLength="39.5" lengthAdjust="spacingAndGlyphs">1734</text>
<line x1="554" y1="526.5" x2="634" y2="526.5" stroke="#a9d1d1" stroke-width="3"/>
<text x="591.5" y="544.9" font-size="17.5" font-weight="bold" fill="#a9d1d1" textLength="39.5" lengthAdjust="spacingAndGlyphs">1715</text>
<text x="641" y="415.7" font-size="17.5" font-weight="normal" fill="#ff0000" textLength="65.5" lengthAdjust="spacingAndGlyphs">1803.88</text>
<text x="641" y="548.9" font-size="17.5" font-weight="bold" fill="#ff0000" textLength="65.5" lengthAdjust="spacingAndGlyphs">1696.27</text>
<text x="641" y="704.7" font-size="17.5" font-weight="normal" fill="#ff0000" textLength="65.5" lengthAdjust="spacingAndGlyphs">1588.66</text>
<text x="726" y="245.8" font-size="17.5" font-weight="normal" fill="#ff0000" textLength="55" lengthAdjust="spacingAndGlyphs">1921.8</text>
<text x="721" y="431.7" font-size="17.5" font-weight="bold" fill="#ff0000" textLength="65.5" lengthAdjust="spacingAndGlyphs">1777.32</text>
<text x="721" y="640.6" font-size="17.5" font-weight="normal" fill="#ff0000" textLength="65" lengthAdjust="spacingAndGlyphs">1632.84</text>
<text x="801" y="148.6" font-size="17.5" font-weight="normal" fill="#ff0000" textLength="65" lengthAdjust="spacingAndGlyphs">1988.46</text>
<text x="801" y="388.7" font-size="17.5" font-weight="bold" fill="#ff0000" textLength="65.5" lengthAdjust="spacingAndGlyphs">1806.89</text>
<text x="800.7" y="651.6" font-size="17.5" font-weight="normal" fill="#ff0000" textLength="65.5" lengthAdjust="spacingAndGlyphs">1625.32</text>
<rect x="553.5" y="30.5" width="319" height="775" fill="none" stroke="#ff0000" stroke-width="1"/>
<line x1="633.5" y1="30" x2="633.5" y2="806" stroke="#ff0000" stroke-width="1"/>
<line x1="713.5" y1="80" x2="713.5" y2="806" stroke="#ff0000" stroke-width="1"/>
<line x1="793.5" y1="80" x2="793.5" y2="806" stroke="#ff0000" stroke-width="1"/>
<line x1="633" y1="80.5" x2="873" y2="80.5" stroke="#ff0000" stroke-width="1"/>
<line x1="553" y1="110.5" x2="873" y2="110.5" stroke="#ff0000" stroke-width="1"/>
<text x="559" y="67.8" font-size="12" font-weight="bold" fill="#ff0000" textLength="68.5" lengthAdjust="spacingAndGlyphs">SUPPORT &amp;</text>
<text x="558.5" y="84.6" font-size="12" font-weight="bold" fill="#ff0000" textLength="70" lengthAdjust="spacingAndGlyphs">RESISTANCE</text>
<text x="673" y="66.4" font-size="28" font-weight="bold" fill="#ff0000" textLength="151.5" lengthAdjust="spacingAndGlyphs">FORECASTS</text>
<text x="656.5" y="100" font-size="13" font-weight="bold" fill="#ff0000" textLength="34" lengthAdjust="spacingAndGlyphs">Q4 12</text>
<text x="736.5" y="100" font-size="13" font-weight="bold" fill="#ff0000" textLength="34" lengthAdjust="spacingAndGlyphs">Q1 13</text>
<text x="816.2" y="100" font-size="13" font-weight="bold" fill="#ff0000" textLength="34" lengthAdjust="spacingAndGlyphs">Q2 13</text>
</svg>
</body></html>
